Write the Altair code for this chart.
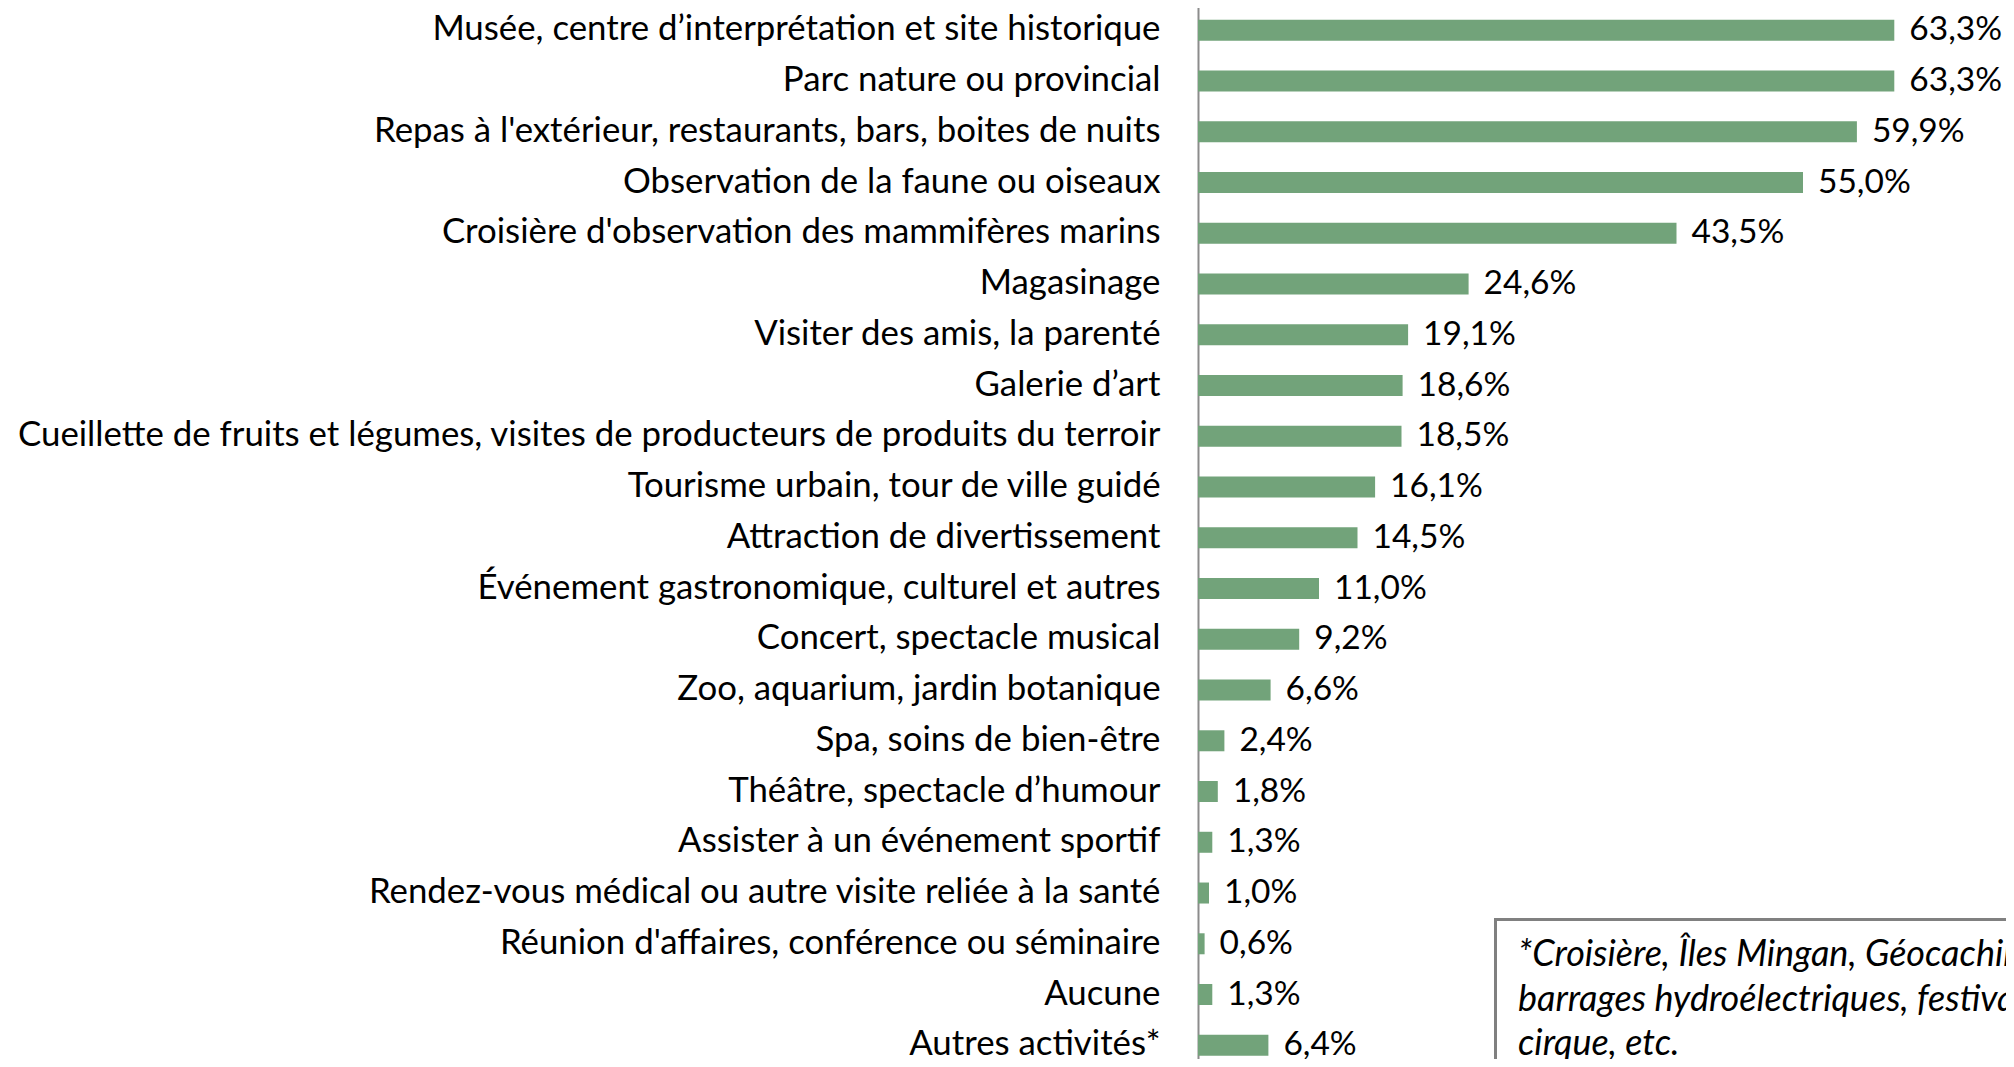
import altair as alt
import pandas as pd

categories = [
    "Musée, centre d’interprétation et site historique",
    "Parc nature ou provincial",
    "Repas à l'extérieur, restaurants, bars, boites de nuits",
    "Observation de la faune ou oiseaux",
    "Croisière d'observation des mammifères marins",
    "Magasinage",
    "Visiter des amis, la parenté",
    "Galerie d’art",
    "Cueillette de fruits et légumes, visites de producteurs de produits du terroir",
    "Tourisme urbain, tour de ville guidé",
    "Attraction de divertissement",
    "Événement gastronomique, culturel et autres",
    "Concert, spectacle musical",
    "Zoo, aquarium, jardin botanique",
    "Spa, soins de bien-être",
    "Théâtre, spectacle d’humour",
    "Assister à un événement sportif",
    "Rendez-vous médical ou autre visite reliée à la santé",
    "Réunion d'affaires, conférence ou séminaire",
    "Aucune",
    "Autres activités*",
]
values = [63.3, 63.3, 59.9, 55.0, 43.5, 24.6, 19.1, 18.6, 18.5, 16.1, 14.5,
          11.0, 9.2, 6.6, 2.4, 1.8, 1.3, 1.0, 0.6, 1.3, 6.4]
note_lines = [
    "*Croisière, Îles Mingan, Géocaching,",
    "barrages hydroélectriques, festivals,",
    "cirque, etc.",
]

df = pd.DataFrame({
    "cat": categories,
    "val": values,
    "label": [f"{v:.1f}".replace(".", ",") + "%" for v in values],
})

FONT = "Lato"
W = 808
H = 1051
ystep = 50.75
y0 = -3.1

yscale = alt.Scale(domain=categories, range=[y0, y0 + ystep * len(categories)],
                   paddingInner=0, paddingOuter=0)
xscale = alt.Scale(domain=[0, W / 11.0], nice=False, zero=True)

base = alt.Chart(df)

bars = base.mark_bar(size=21, color="#72A37A").encode(
    y=alt.Y("cat:N", sort=categories, scale=yscale,
            axis=alt.Axis(title=None, ticks=False, labelPadding=38,
                          labelFont=FONT, labelFontSize=34.8, labelColor="#000000",
                          labelLimit=1300, domainColor="#8C8C8C", domainWidth=2,
                          grid=False)),
    x=alt.X("val:Q", scale=xscale, axis=None),
)

texts = base.mark_text(align="left", baseline="middle", dx=15, font=FONT,
                       fontSize=33.5, color="#000000").encode(
    y=alt.Y("cat:N", sort=categories, scale=yscale),
    x=alt.X("val:Q", scale=xscale),
    text="label:N",
)

box_df = pd.DataFrame({"t": [note_lines]})
box = alt.Chart(box_df).mark_rect(fill="white", stroke="#808080", strokeWidth=3).encode(
    x=alt.value(297.5), x2=alt.value(W + 40), y=alt.value(911.5), y2=alt.value(H + 60)
)
note = alt.Chart(box_df).mark_text(align="left", baseline="alphabetic", font=FONT,
                                   fontSize=36, fontStyle="italic", lineHeight=44.5,
                                   color="#000000").encode(
    x=alt.value(320), y=alt.value(958), text="t"
)

chart = alt.layer(bars, texts, box, note).properties(
    width=W, height=H,
    autosize=alt.AutoSizeParams(type="none"),
    padding={"left": 1190, "top": 0, "right": 0, "bottom": 0},
).configure_view(stroke=None)

chart.save("out.html", embed_options={"renderer": "svg", "actions": False})
